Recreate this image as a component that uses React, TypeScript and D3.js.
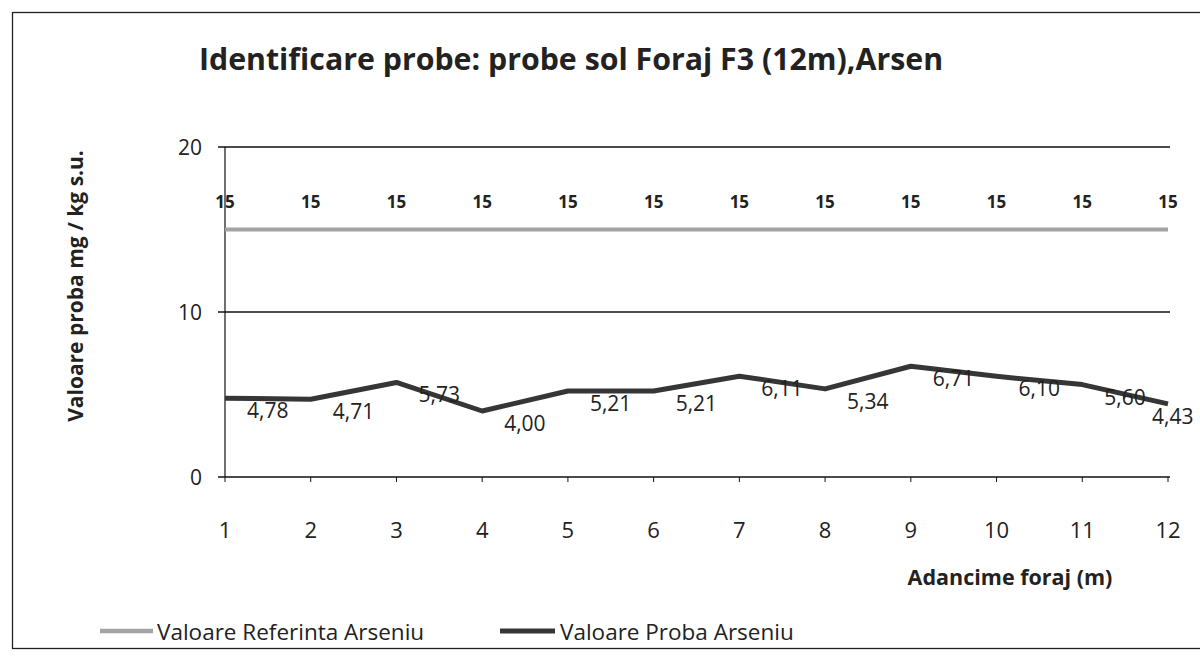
import React from "react";
import * as d3 from "d3";

const categories = [1, 2, 3, 4, 5, 6, 7, 8, 9, 10, 11, 12];
const referenceValues = [15, 15, 15, 15, 15, 15, 15, 15, 15, 15, 15, 15];
const probaValues = [4.78, 4.71, 5.73, 4.0, 5.21, 5.21, 6.11, 5.34, 6.71, 6.1, 5.6, 4.43];
const yTicks = [0, 10, 20];
const title = "Identificare probe: probe sol Foraj F3 (12m),Arsen";
const yTitle = "Valoare proba mg / kg s.u.";
const xTitle = "Adancime foraj (m)";
const seriesNames = ["Valoare Referinta Arseniu", "Valoare Proba Arseniu"];

const W = 1200;
const H = 662;
const FONT = "'Open Sans', 'DejaVu Sans', sans-serif";

export default function App() {
  const x = d3.scaleLinear().domain([1, 12]).range([225, 1168]);
  const y = d3.scaleLinear().domain([0, 20]).range([477, 147]);
  const line = d3
    .line<number>()
    .x((_, i) => x(categories[i]))
    .y((d) => y(d));
  const fmt = (v: number) => v.toFixed(2).replace(".", ",");
  const refColor = "#a3a3a3";
  const probaColor = "#363636";
  const labelW = 46;

  return (
    <div style={{ position: "absolute", left: 0, top: 0 }}>
      <svg width={W} height={H} style={{ display: "block", background: "#fff" }}>
        {/* outer frame */}
        <rect x={12.5} y={12.5} width={1200} height={636} fill="none" stroke="#222" strokeWidth={1.3} />
        <text x={571} y={70} textAnchor="middle" fontFamily={FONT} fontWeight="bold" fontSize={30.3} fill="#222">
          {title}
        </text>
        {/* gridlines */}
        {yTicks.map((t) => (
          <g key={t}>
            <line x1={218} x2={1170} y1={y(t)} y2={y(t)} stroke="#111" strokeWidth={1.4} />
            <text x={202} y={y(t) + 7.5} textAnchor="end" fontFamily={FONT} fontSize={21} fill="#222">
              {t}
            </text>
          </g>
        ))}
        {/* y axis */}
        <line x1={225} x2={225} y1={y(20)} y2={y(0)} stroke="#111" strokeWidth={1.2} />
        {/* x ticks & labels */}
        {categories.map((c) => (
          <g key={c}>
            <line x1={x(c)} x2={x(c)} y1={y(0)} y2={y(0) + 5} stroke="#111" strokeWidth={1} />
            <text x={x(c)} y={538} textAnchor="middle" fontFamily={FONT} fontSize={22} fill="#222">
              {c}
            </text>
          </g>
        ))}
        {/* axis titles */}
        <text
          transform={`translate(83,${286}) rotate(-90)`}
          textAnchor="middle"
          fontFamily={FONT}
          fontWeight="bold"
          fontSize={21}
          fill="#222"
        >
          {yTitle}
        </text>
        <text x={1010} y={585} textAnchor="middle" fontFamily={FONT} fontWeight="bold" fontSize={21.5} fill="#222">
          {xTitle}
        </text>
        {/* series */}
        <path d={line(referenceValues) || ""} fill="none" stroke={refColor} strokeWidth={4} />
        <path d={line(probaValues) || ""} fill="none" stroke={probaColor} strokeWidth={5} strokeLinejoin="round" />
        {referenceValues.map((v, i) => (
          <text
            key={"r" + i}
            x={x(categories[i])}
            y={y(v) - 22}
            textAnchor="middle"
            fontFamily={FONT}
            fontWeight="bold"
            fontSize={17}
            fill="#222"
          >
            {v}
          </text>
        ))}
        {probaValues.map((v, i) => {
          const px = x(categories[i]);
          const lx = Math.min(px + 22, W - 2 - labelW);
          return (
            <text key={"p" + i} x={lx} y={y(v) + 20} fontFamily={FONT} fontSize={21} fill="#222">
              {fmt(v)}
            </text>
          );
        })}
        {/* legend */}
        <line x1={100} x2={153} y1={631} y2={631} stroke={refColor} strokeWidth={4.5} />
        <text x={157} y={640} fontFamily={FONT} fontSize={22.5} fill="#222">
          {seriesNames[0]}
        </text>
        <line x1={500} x2={555} y1={631} y2={631} stroke={probaColor} strokeWidth={5} />
        <text x={560} y={640} fontFamily={FONT} fontSize={22.5} fill="#222">
          {seriesNames[1]}
        </text>
      </svg>
    </div>
  );
}
